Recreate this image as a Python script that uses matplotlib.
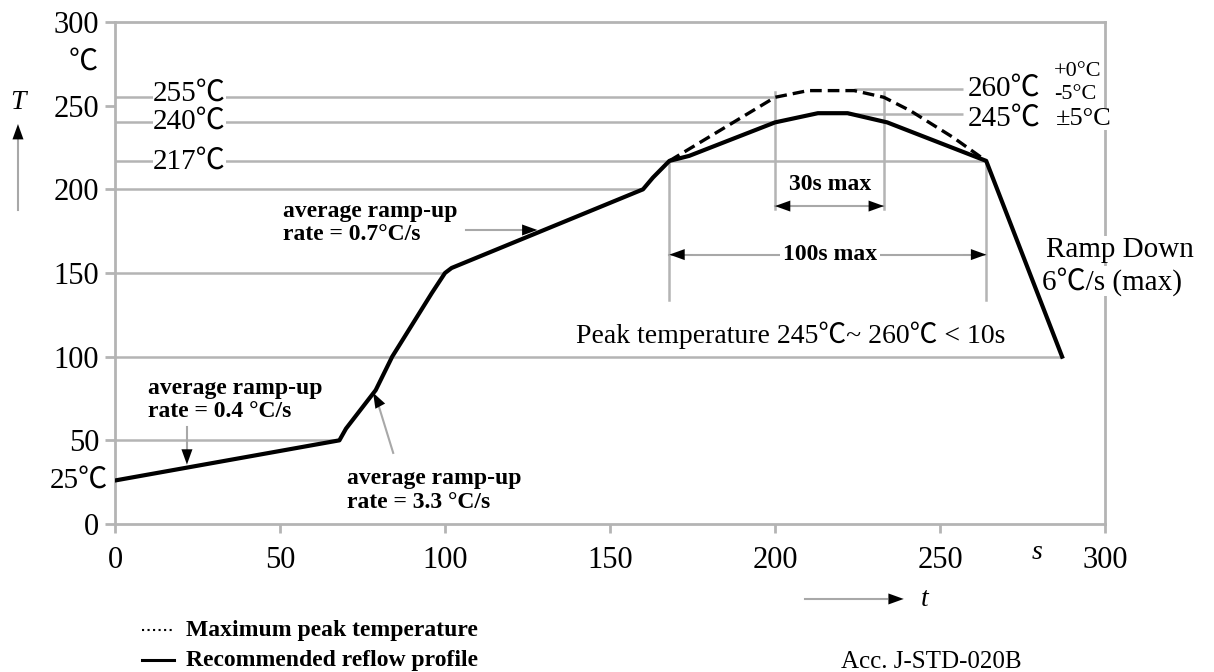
import numpy as np
import matplotlib.pyplot as plt

plt.rcParams['font.family'] = ['Liberation Serif', 'Noto Sans CJK JP', 'DejaVu Serif']

# recommended reflow profile (solid line)
prof_t = [0, 68, 70, 79, 84, 96, 100, 102, 160, 163, 168, 174, 200, 213, 222, 234, 264, 287]
prof_T = [26, 50, 57, 80, 100, 138, 150, 153, 200, 207, 217, 220, 240, 245.5, 245.5, 240, 217, 100]

# maximum peak temperature (dashed line)
peak_t = [168, 200, 210, 224, 233, 241, 254, 264]
peak_T = [217, 255, 259, 259, 255, 247, 231, 217]

ticks = [0, 50, 100, 150, 200, 250, 300]

# gray reference lines: level, from t, to t
ref_T = [50, 100, 150, 200, 217, 240, 255, 260, 245]
ref_t0 = [0, 0, 0, 0, 0, 0, 0, 224, 222]
ref_t1 = [68, 287, 100, 160, 264, 200, 200, 257, 257]

# vertical limit lines: t, from T, to T
vl_t = [168, 264, 200, 233]
vl_T0 = [134, 134, 188, 188]
vl_T1 = [217, 217, 258, 258]

GRAY = '#b4b4b4'
PGRAY = '#a8a8a8'

fig = plt.figure(figsize=(12.14, 6.72), dpi=100)
ax = fig.add_axes([115 / 1214, 1 - 524 / 672, 990 / 1214, 502 / 672])
ax.set_xlim(0, 300)
ax.set_ylim(0, 300)
for s in ax.spines.values():
    s.set_color(GRAY)
    s.set_linewidth(2)
ax.set_xticks(ticks)
ax.set_yticks(ticks)
ax.tick_params(color=GRAY, width=2, labelsize=22)
ax.tick_params(axis='x', length=6.5, pad=9)
ax.tick_params(axis='y', length=7.5, pad=4)


def head(tip, tail, ms=22):
    # black arrow head only
    ax.annotate('', xy=tip, xytext=tail, annotation_clip=False,
                arrowprops=dict(arrowstyle='-|>,head_length=0.5,head_width=0.18',
                                color='black', lw=0.01, shrinkA=0, shrinkB=0,
                                mutation_scale=ms), zorder=6)


for lv, a, b in zip(ref_T, ref_t0, ref_t1):
    ax.plot([a, b], [lv, lv], color=GRAY, lw=1.8, zorder=1, solid_capstyle='butt')
for t, a, b in zip(vl_t, vl_T0, vl_T1):
    ax.plot([t, t], [a, b], color=GRAY, lw=1.8, zorder=1)

ax.plot(peak_t, peak_T, color='black', lw=2.4, dashes=(3.5, 1.8), zorder=4)
ax.plot(prof_t, prof_T, color='black', lw=3.0, zorder=5, solid_joinstyle='round')

# level labels on the left
for y, tx in zip([257, 240.5, 216.7], ['255℃', '240℃', '217℃']):
    ax.text(22.5, y, tx, fontsize=21, ha='center', va='center', zorder=3,
            bbox=dict(fc='white', ec='none', pad=0))
ax.text(-2, 26, '25℃', fontsize=21, ha='right', va='center', clip_on=False)
ax.text(-9.5, 276, '℃', fontsize=21, ha='center', va='center', clip_on=False)

# T axis arrow
ax.plot([-29.4, -29.4], [187.7, 230], color=PGRAY, lw=1.5, clip_on=False)
head((-29.4, 239), (-29.4, 229))
ax.text(-29.4, 252, 'T', fontsize=20, style='italic', ha='center', va='center')

# t axis arrow
ax.plot([209, 234], [-44.8, -44.8], color=PGRAY, lw=1.5, clip_on=False)
head((239, -44.8), (232, -44.8))
ax.text(245.5, -45, 't', fontsize=20, style='italic', ha='center', va='center')
ax.text(279.3, -17, 's', fontsize=20, style='italic', ha='center', va='center')

# ramp-up annotations
ax.text(10, 74, 'average ramp-up\nrate = 0.4 °C/s', fontsize=17, weight='bold',
        ha='left', va='center', linespacing=1.15)
ax.plot([21.8, 21.8], [58, 42], color=PGRAY, lw=1.5)
head((21.8, 35.5), (21.8, 42))

ax.text(51, 180, 'average ramp-up\nrate = 0.7°C/s', fontsize=17, weight='bold',
        ha='left', va='center', linespacing=1.15)
ax.plot([106.5, 124], [175.7, 175.7], color=PGRAY, lw=1.5)
head((128, 175.7), (123, 175.7))

ax.text(70.4, 20, 'average ramp-up\nrate = 3.3 °C/s', fontsize=17, weight='bold',
        ha='left', va='center', linespacing=1.15)
ax.plot([84.3, 80], [42.5, 70], color=PGRAY, lw=1.5)
head((78.2, 78.5), (80.5, 70))

# 30s / 100s windows
ax.plot([200, 233], [190, 190], color=PGRAY, lw=1.5, zorder=2)
head((200, 190), (207, 190))
head((233, 190), (226, 190))
ax.text(216.6, 203, '30s max', fontsize=17, weight='bold', ha='center', va='center')

ax.plot([168, 264], [161, 161], color=PGRAY, lw=1.5, zorder=2)
head((168, 161), (175, 161))
head((264, 161), (257, 161))
ax.text(216.6, 161, '100s max', fontsize=17, weight='bold', ha='center', va='center',
        bbox=dict(fc='white', ec='none', pad=2), zorder=3)

ax.text(204.7, 113, 'Peak temperature 245℃~ 260℃ < 10s', fontsize=20,
        ha='center', va='center')

# right side labels
ax.text(258.4, 260, '260℃', fontsize=21, ha='left', va='center', clip_on=False,
        bbox=dict(fc='white', ec='none', pad=0))
ax.text(284.5, 270.5, '+0°C', fontsize=16, ha='left', va='center', clip_on=False,
        bbox=dict(fc='white', ec='none', pad=0))
ax.text(284.5, 256.5, '-5°C', fontsize=16, ha='left', va='center', clip_on=False,
        bbox=dict(fc='white', ec='none', pad=0))
ax.text(258.4, 242, '245℃', fontsize=21, ha='left', va='center', clip_on=False,
        bbox=dict(fc='white', ec='none', pad=0))
ax.text(285, 242, '±5°C', fontsize=19, ha='left', va='center', clip_on=False,
        bbox=dict(fc='white', ec='none', pad=0))
ax.text(282, 164, 'Ramp Down', fontsize=21, ha='left', va='center', clip_on=False,
        bbox=dict(fc='white', ec='none', pad=0.5))
ax.text(281, 145, '6℃/s (max)', fontsize=21, ha='left', va='center', clip_on=False,
        bbox=dict(fc='white', ec='none', pad=0.5))

# legend
ax.plot([8.2, 18], [-63.4, -63.4], color='black', lw=1.5, ls=':', clip_on=False)
ax.plot([8.2, 18], [-81.3, -81.3], color='black', lw=2.2, clip_on=False)
ax.text(21.5, -63.4, 'Maximum peak temperature', fontsize=17, weight='bold',
        ha='left', va='center')
ax.text(21.5, -81.3, 'Recommended reflow profile', fontsize=17, weight='bold',
        ha='left', va='center')
ax.text(247.5, -82.5, 'Acc. J-STD-020B', fontsize=18, ha='center', va='center')

fig.savefig('out.png', dpi=100)
